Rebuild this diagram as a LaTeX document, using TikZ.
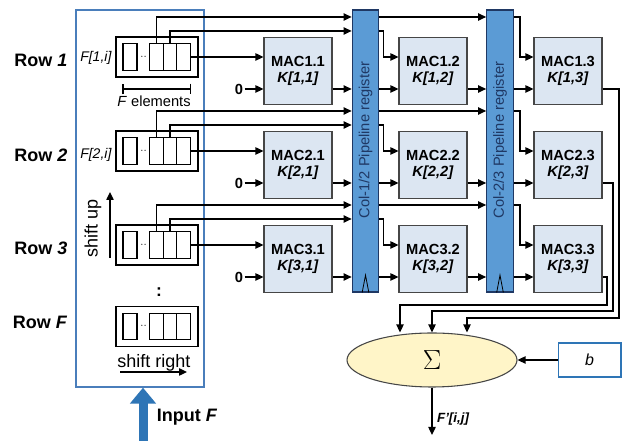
\documentclass[tikz,border=0pt]{standalone}
\usepackage{fontspec}
\setmainfont{Liberation Sans}
\usepackage{tikz}
\usetikzlibrary{arrows.meta,positioning,calc,shapes.geometric}
\usepackage{xcolor}
\definecolor{macfill}{RGB}{220,230,242}
\definecolor{macline}{RGB}{70,70,70}
\definecolor{regfill}{RGB}{91,155,213}
\definecolor{regline}{RGB}{31,56,100}
\definecolor{bufblue}{RGB}{74,126,187}
\definecolor{inblue}{RGB}{46,117,182}
\definecolor{sumfill}{RGB}{255,245,200}

\begin{document}
\begin{tikzpicture}[x=0.75pt, y=0.75pt,
    mac/.style={draw=macline, fill=macfill, line width=0.8pt, minimum width=51pt, minimum height=50pt, inner sep=0pt, align=center, font=\fontsize{11}{11.5}\selectfont\bfseries},
    preg/.style={draw=regline, fill=regfill, line width=0.8pt, minimum width=20pt, minimum height=211.5pt, inner sep=0pt},
    reglab/.style={rotate=90, text=regline, font=\fontsize{11}{13}\selectfont},
    sreg/.style={draw, line width=0.8pt, minimum width=61.5pt, minimum height=30pt, inner sep=0pt},
    cell/.style={draw, line width=0.8pt, minimum width=10pt, minimum height=20pt, inner sep=0pt},
    rowlab/.style={anchor=east, font=\fontsize{13.5}{16}\selectfont\bfseries},
    flab/.style={anchor=east, inner sep=1pt, font=\fontsize{10.5}{12}\selectfont\itshape},
    zero/.style={font=\fontsize{11}{13}\selectfont\bfseries, inner sep=1pt},
    arr/.style={-{Triangle[length=6pt,width=5.5pt]}, line width=1pt}
]
\useasboundingbox (0,0) rectangle (624,441);

% Input buffer
\node[draw=bufblue, line width=1pt, minimum width=96pt, minimum height=282.75pt] (buf) at (140,242.5) {};

% Row 1
\node[rowlab] (row1) at (72,381) {Row \textit{1}};
\node[flab] (f1) at (113,383) {F[1,i]};
\node[sreg] (b1) at (157,384) {};
\node[cell, minimum width=10.5pt] (c10) at (130,384) {};
\node[font=\footnotesize, inner sep=0pt] (d1) at (143.5,384) {$\cdot\cdot$};
\node[cell] (c11) at (156.5,384) {};
\node[cell] (c12) at (170,384) {};
\node[cell] (c13) at (183.5,384) {};
\draw[{Bar[width=8pt]}-{Bar[width=8pt]}, line width=0.8pt] (c10.west |- 0,352) -- (c13.east |- 0,352);
\node[font=\fontsize{11}{13}\selectfont] (fel) at (154,340) {\textit{F} elements};

% Row 2
\node[rowlab] (row2) at (72,286) {Row \textit{2}};
\node[flab] (f2) at (113,286) {F[2,i]};
\node[sreg] (b2) at (157,290) {};
\node[cell, minimum width=10.5pt] (c20) at (130,290) {};
\node[font=\footnotesize, inner sep=0pt] (d2) at (143.5,290) {$\cdot\cdot$};
\node[cell] (c21) at (156.5,290) {};
\node[cell] (c22) at (170,290) {};
\node[cell] (c23) at (183.5,290) {};

% Row 3
\node[rowlab] (row3) at (72,193) {Row \textit{3}};
\node[sreg] (b3) at (157,196) {};
\node[cell, minimum width=10.5pt] (c30) at (130,196) {};
\node[font=\footnotesize, inner sep=0pt] (d3) at (143.5,196) {$\cdot\cdot$};
\node[cell] (c31) at (156.5,196) {};
\node[cell] (c32) at (170,196) {};
\node[cell] (c33) at (183.5,196) {};

% Row F
\node[font=\fontsize{13}{15}\selectfont\bfseries, inner sep=0pt] (vd) at (159,149) {:};
\node[rowlab] (rowF) at (72,119) {Row \textit{F}};
\node[sreg] (bF) at (157,114.5) {};
\node[cell, minimum width=10.5pt] (cF0) at (130,114.5) {};
\node[font=\footnotesize, inner sep=0pt] (dF) at (143.5,114.5) {$\cdot\cdot$};
\node[cell] (cF1) at (156.5,114.5) {};
\node[cell] (cF2) at (170,114.5) {};
\node[cell] (cF3) at (183.5,114.5) {};

% Shift directions
\node[rotate=90, font=\fontsize{13.5}{16}\selectfont] (shup) at (93,213) {shift up};
\coordinate (su0) at (110,183);
\coordinate (su1) at (110,249);
\draw[arr] (su0) -- (su1);
\node[font=\fontsize{13.5}{16}\selectfont] (shr) at (154,78) {shift right};
\coordinate (sr0) at (120,69);
\coordinate (sr1) at (187,69);
\draw[arr] (sr0) -- (sr1);

% Input
\coordinate (inp) at (143,0);
\draw[-{Triangle[length=12pt,width=19pt]}, line width=6.75pt, inblue] (inp) -- (inp |- buf.south);
\node[font=\fontsize{13.5}{16}\selectfont\bfseries] (inlab) at (187,24) {Input \textit{F}};

% Pipeline registers
\node[preg] (reg1) at (365.5,290) {};
\node[reglab] at (365.5,301) {Col-1/2 Pipeline register};
\draw[line width=0.6pt] ([xshift=-2.5pt]reg1.south) -- ([yshift=13pt]reg1.south) -- ([xshift=2.5pt]reg1.south);
\node[preg] (reg2) at (500,290) {};
\node[reglab] at (500,301) {Col-2/3 Pipeline register};
\draw[line width=0.6pt] ([xshift=-2.5pt]reg2.south) -- ([yshift=13pt]reg2.south) -- ([xshift=2.5pt]reg2.south);

% MAC array
\node[mac] (m11) at (298,370) {MAC1.1\\\textit{K[1,1]}};
\node[mac] (m12) at (433,370) {MAC1.2\\\textit{K[1,2]}};
\node[mac] (m13) at (568,370) {MAC1.3\\\textit{K[1,3]}};
\node[mac] (m21) at (298,276) {MAC2.1\\\textit{K[2,1]}};
\node[mac] (m22) at (433,276) {MAC2.2\\\textit{K[2,2]}};
\node[mac] (m23) at (568,276) {MAC2.3\\\textit{K[2,3]}};
\node[mac] (m31) at (298,182) {MAC3.1\\\textit{K[3,1]}};
\node[mac] (m32) at (433,182) {MAC3.2\\\textit{K[3,2]}};
\node[mac] (m33) at (568,182) {MAC3.3\\\textit{K[3,3]}};

% Row 1 wiring
\draw[arr] (c13.east) -- (m11.west |- c13.east);
\draw[arr] (c12.north) |- (reg1.west |- 0,410);
\draw[arr] (c11.north) |- (reg1.west |- 0,424);
\draw[arr] (reg1.east |- 0,424) -- (reg2.west |- 0,424);
\draw[arr] (reg1.east |- 0,410) -- ++(4,0) |- (m12.west |- c13.east);
\draw[arr] (reg2.east |- 0,424) -- ++(6,0) |- (m13.west |- c13.east);
\node[zero] (z1) at (239,352) {0};
\draw[arr] (z1) -- (m11.west |- z1);
\draw[arr] (m11.east |- z1) -- (reg1.west |- z1);
\draw[arr] (reg1.east |- z1) -- (m12.west |- z1);
\draw[arr] (m12.east |- z1) -- (reg2.west |- z1);
\draw[arr] (reg2.east |- z1) -- (m13.west |- z1);

% Row 2 wiring
\draw[arr] (c23.east) -- (m21.west |- c23.east);
\draw[arr] (c22.north) |- (reg1.west |- 0,316);
\draw[arr] (c21.north) |- (reg1.west |- 0,330);
\draw[arr] (reg1.east |- 0,330) -- (reg2.west |- 0,330);
\draw[arr] (reg1.east |- 0,316) -- ++(4,0) |- (m22.west |- c23.east);
\draw[arr] (reg2.east |- 0,330) -- ++(6,0) |- (m23.west |- c23.east);
\node[zero] (z2) at (239,258) {0};
\draw[arr] (z2) -- (m21.west |- z2);
\draw[arr] (m21.east |- z2) -- (reg1.west |- z2);
\draw[arr] (reg1.east |- z2) -- (m22.west |- z2);
\draw[arr] (m22.east |- z2) -- (reg2.west |- z2);
\draw[arr] (reg2.east |- z2) -- (m23.west |- z2);

% Row 3 wiring
\draw[arr] (c33.east) -- (m31.west |- c33.east);
\draw[arr] (c32.north) |- (reg1.west |- 0,222);
\draw[arr] (c31.north) |- (reg1.west |- 0,236);
\draw[arr] (reg1.east |- 0,236) -- (reg2.west |- 0,236);
\draw[arr] (reg1.east |- 0,222) -- ++(4,0) |- (m32.west |- c33.east);
\draw[arr] (reg2.east |- 0,236) -- ++(6,0) |- (m33.west |- c33.east);
\node[zero] (z3) at (239,164) {0};
\draw[arr] (z3) -- (m31.west |- z3);
\draw[arr] (m31.east |- z3) -- (reg1.west |- z3);
\draw[arr] (reg1.east |- z3) -- (m32.west |- z3);
\draw[arr] (m32.east |- z3) -- (reg2.west |- z3);
\draw[arr] (reg2.east |- z3) -- (m33.west |- z3);

% Accumulation
\node[draw=macline, fill=sumfill, ellipse, line width=0.8pt, minimum width=127.5pt, minimum height=40.5pt, inner sep=0pt, font=\fontsize{20}{22}\selectfont] (sum) at (432,81) {$\Sigma$};
\node[draw=inblue, line width=1pt, minimum width=47pt, minimum height=25.5pt, font=\fontsize{12}{14}\selectfont\itshape] (b) at (589.5,81) {b};
\draw[arr] (m13.east |- z1) -| (619,123) -| (sum.north -| 467,0);
\draw[arr] (m23.east |- z2) -| (613,130) -| (sum.north);
\draw[arr] (m33.east |- z3) -| (607,136) -| (sum.north -| 400,0);
\draw[arr] (b) -- (sum);
\coordinate (out) at (432,6);
\draw[arr] (sum) -- (out) node[pos=0.67, right, font=\fontsize{10}{12}\selectfont\bfseries\itshape] {F'[i,j]};

\end{tikzpicture}
\end{document}
